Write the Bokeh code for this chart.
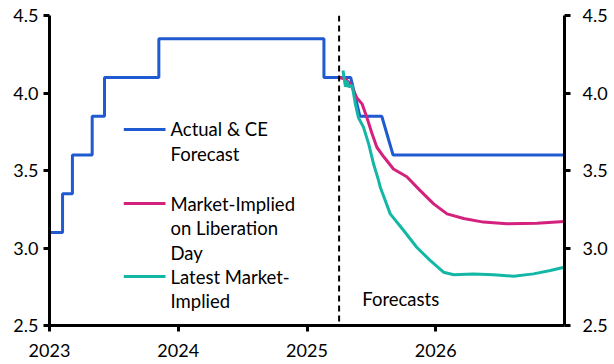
import pandas as pd
from bokeh.plotting import figure
from bokeh.models import (LinearAxis, FixedTicker, PrintfTickFormatter, BasicTickFormatter,
                          Span, Label, Range1d, Arrow)
from bokeh.embed import file_html
from bokeh.resources import INLINE

# ---------------- data ----------------
# Actual policy rate: date of each change and new level
actual_dates = ["2023-01-01", "2023-02-07", "2023-03-07", "2023-05-02", "2023-06-06",
                "2023-11-07", "2025-02-18"]
actual_levels = [3.10, 3.35, 3.60, 3.85, 4.10, 4.35, 4.10]

# CE forecast path
ce_dates = ["2025-05-05", "2025-05-31", "2025-08-01", "2025-09-02", "2026-12-31"]
ce_levels = [4.10, 3.85, 3.85, 3.60, 3.60]

# Market-implied path on Liberation Day
lib_dates = ["2025-04-02", "2025-04-20", "2025-05-04", "2025-05-22", "2025-06-06", "2025-06-20",
             "2025-07-04", "2025-07-18", "2025-08-06", "2025-09-03", "2025-10-11", "2025-11-18",
             "2025-12-26", "2026-02-02", "2026-03-21", "2026-05-16", "2026-07-22", "2026-10-15",
             "2026-12-31"]
lib_values = [4.10, 4.09, 4.06, 3.97, 3.93, 3.84, 3.74, 3.65, 3.59, 3.51, 3.46, 3.37,
              3.285, 3.22, 3.19, 3.167, 3.156, 3.16, 3.171]

# Latest market-implied path
latest_dates = ["2025-04-13", "2025-04-20", "2025-04-24", "2025-04-29", "2025-05-09", "2025-05-18",
                "2025-05-27", "2025-06-10", "2025-06-25", "2025-07-09", "2025-07-23", "2025-07-28",
                "2025-08-25", "2025-10-02", "2025-11-08", "2025-12-16", "2026-01-23", "2026-02-21",
                "2026-04-18", "2026-06-14", "2026-08-10", "2026-10-05", "2026-11-22", "2026-12-31"]
latest_values = [4.145, 4.04, 4.08, 4.04, 4.05, 3.93, 3.84, 3.78, 3.67, 3.54, 3.435, 3.39,
                 3.22, 3.113, 3.005, 2.92, 2.844, 2.827, 2.833, 2.827, 2.818, 2.833, 2.855, 2.876]

liberation_day = "2025-04-02"
year_ticks = [2023, 2024, 2025, 2026]
y_ticks = [2.5, 3.0, 3.5, 4.0, 4.5]

series_names = ["Actual & CE\nForecast", "Market-Implied\non Liberation\nDay", "Latest Market-\nImplied"]
forecast_text = "Forecasts"

BLUE = "#1f5ad0"
PINK = "#d4217d"
TEAL = "#14b7a5"
FONT = "Lato"
FS = "18.5px"


def dec_year(d):
    t = pd.Timestamp(d)
    start = pd.Timestamp(year=t.year, month=1, day=1)
    end = pd.Timestamp(year=t.year + 1, month=1, day=1)
    return t.year + (t - start) / (end - start)


# build stepped actual line + forecast
bx, by = [], []
for i, (d, v) in enumerate(zip(actual_dates, actual_levels)):
    x = dec_year(d)
    if i > 0:
        bx.append(x)
        by.append(by[-1])
    bx.append(x)
    by.append(v)
for d, v in zip(ce_dates, ce_levels):
    bx.append(dec_year(d))
    by.append(v)

lx = [dec_year(d) for d in lib_dates]
tx = [dec_year(d) for d in latest_dates]

p = figure(width=612, height=362, output_backend="svg", toolbar_location=None,
           x_range=Range1d(2023, 2027), y_range=Range1d(2.5, 4.5),
           min_border_left=49, min_border_right=48, min_border_top=15, min_border_bottom=37)
p.outline_line_color = None
p.grid.visible = False
p.background_fill_color = "white"
p.border_fill_color = "white"

p.line(bx, by, line_color=BLUE, line_width=3)
p.line(lx, lib_values, line_color=PINK, line_width=3)
p.line(tx, latest_values, line_color=TEAL, line_width=3)

p.add_layout(Span(location=dec_year(liberation_day), dimension="height",
                  line_color="black", line_width=2, line_dash="6 4"))


def style_axis(ax):
    ax.axis_line_width = 3
    ax.axis_line_color = "black"
    ax.major_tick_line_width = 3
    ax.major_tick_line_color = "black"
    ax.major_tick_out = 6
    ax.major_tick_in = 0
    ax.minor_tick_line_color = None
    ax.major_label_text_font = FONT
    ax.major_label_text_font_size = "18px"
    ax.major_label_text_color = "black"


p.xaxis.ticker = FixedTicker(ticks=year_ticks)
p.xaxis.formatter = BasicTickFormatter(use_scientific=False)
p.yaxis.ticker = FixedTicker(ticks=y_ticks)
p.yaxis.formatter = PrintfTickFormatter(format="%.1f")
style_axis(p.xaxis[0])
style_axis(p.yaxis[0])
p.xaxis.major_label_standoff = 12
p.yaxis.major_label_standoff = 5

ry = LinearAxis(ticker=FixedTicker(ticks=y_ticks), formatter=PrintfTickFormatter(format="%.1f"))
style_axis(ry)
ry.major_label_standoff = 12
p.add_layout(ry, "right")

# manual legend
leg_x0, leg_x1, leg_tx = 2023.577, 2023.901, 2023.94
leg_rows = [[3.765, 3.606], [3.287, 3.126, 2.968], [2.816, 2.655]]
for name, col, rows in zip(series_names, [BLUE, PINK, TEAL], leg_rows):
    p.add_layout(Arrow(end=None, x_start=leg_x0, x_end=leg_x1, y_start=rows[0], y_end=rows[0],
                       line_color=col, line_width=3))
    for txt, yy in zip(name.split("\n"), rows):
        p.add_layout(Label(x=leg_tx, y=yy, text=txt, text_font=FONT, text_font_size=FS,
                           text_baseline="middle", text_align="left", text_color="black"))

p.add_layout(Label(x=2025.429, y=2.668, text=forecast_text, text_font=FONT, text_font_size=FS,
                   text_baseline="middle", text_align="left", text_color="black"))

open("out.html", "w").write(file_html(p, INLINE))
